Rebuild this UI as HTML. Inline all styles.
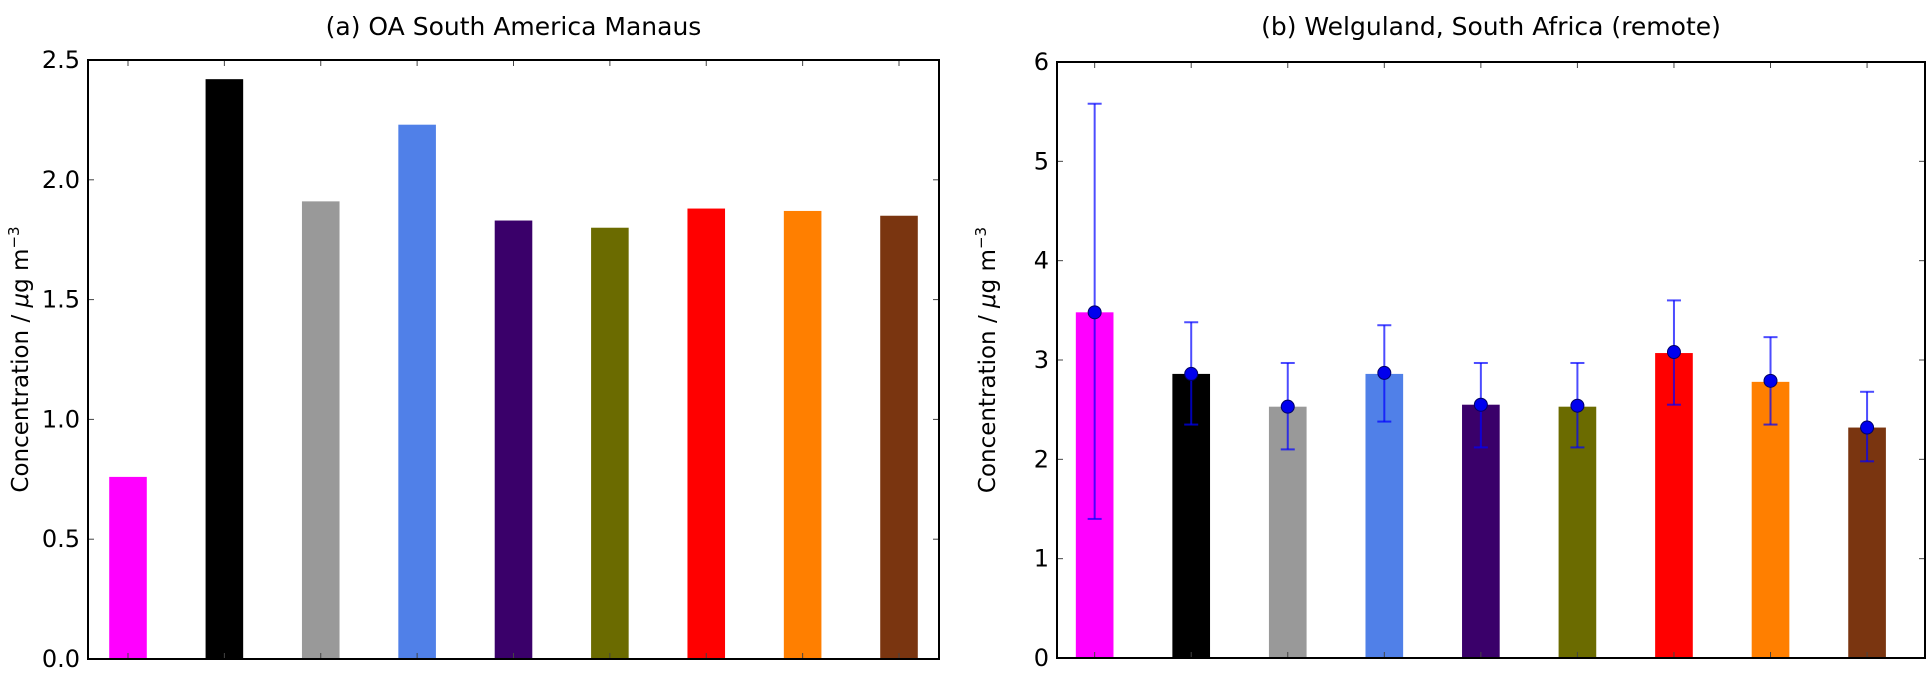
<!DOCTYPE html>
<html><head><meta charset="utf-8"><style>
body{margin:0;background:#fff;width:1930px;height:669px;overflow:hidden}
svg text{font-family:"DejaVu Sans","Liberation Sans",sans-serif;fill:#000}
</style></head><body>
<svg id="c" width="1930" height="669"></svg>
<script>
const colors=["#ff00ff","#000000","#999999","#5080e8","#3a006a","#6b6b00","#ff0000","#ff7f00","#7a3510"];
const valuesA=[0.76,2.42,1.91,2.23,1.83,1.80,1.88,1.87,1.85];
const ticksA=[0,0.5,1.0,1.5,2.0,2.5];
const tickLabelsA=["0.0","0.5","1.0","1.5","2.0","2.5"];
const valuesB=[3.48,2.86,2.53,2.86,2.55,2.53,3.07,2.78,2.32];
const meansB=[3.48,2.86,2.53,2.87,2.55,2.54,3.08,2.79,2.32];
const errLowB=[1.40,2.35,2.10,2.38,2.12,2.12,2.55,2.35,1.98];
const errHighB=[5.58,3.38,2.97,3.35,2.97,2.97,3.60,3.23,2.68];
const ticksB=[0,1,2,3,4,5,6];
const tickLabelsB=["0","1","2","3","4","5","6"];
const NS="http://www.w3.org/2000/svg";
const svg=document.getElementById('c');
function mk(t,a,p){const e=document.createElementNS(NS,t);for(const k in a)e.setAttribute(k,a[k]);(p||svg).appendChild(e);return e;}
function panel(cfg){
  const g=mk('g',{});
  
  
  const X0=cfg.x0,X1=cfg.x1,Y0=cfg.y0,Y1=cfg.y1;
  const n=cfg.values.length;
  const span=n-1+cfg.padL+cfg.padR;
  const xs=i=>X0+(X1-X0)*(i+cfg.padL)/span;
  const ys=v=>Y1-(Y1-Y0)*(v-cfg.ymin)/(cfg.ymax-cfg.ymin);
  const bw=(X1-X0)/span*0.39;
  cfg.values.forEach((v,i)=>{
    const r=mk('rect',{x:xs(i)-bw/2,y:ys(v),width:bw,height:ys(0)-ys(v),fill:colors[i]},g);
    
    
  });
  if(cfg.means){
    cfg.means.forEach((m,i)=>{
      const x=xs(i);
      const eg=mk('g',{stroke:'#0000ff','stroke-opacity':0.7,'stroke-width':2},g);
      
      
      mk('line',{x1:x,x2:x,y1:ys(cfg.lo[i]),y2:ys(cfg.hi[i])},eg);
      mk('line',{x1:x-7,x2:x+7,y1:ys(cfg.lo[i]),y2:ys(cfg.lo[i])},eg);
      mk('line',{x1:x-7,x2:x+7,y1:ys(cfg.hi[i]),y2:ys(cfg.hi[i])},eg);
      const c=mk('circle',{cx:x,cy:ys(m),r:6.5,fill:'#0000ee',stroke:'#000066','stroke-width':1},g);
      
      
    });
  }
  for(let i=0;i<n;i++){const x=xs(i);
    mk('line',{x1:x,x2:x,y1:Y1,y2:Y1-6,stroke:'#444','stroke-width':1},g);
    mk('line',{x1:x,x2:x,y1:Y0,y2:Y0+6,stroke:'#444','stroke-width':1},g);}
  cfg.ticks.forEach((t,i)=>{const y=ys(t);
    mk('line',{x1:X0,x2:X0+6,y1:y,y2:y,stroke:'#444','stroke-width':1},g);
    mk('line',{x1:X1,x2:X1-6,y1:y,y2:y,stroke:'#444','stroke-width':1},g);
    const tx=mk('text',{x:X0-8,y:y+8,'text-anchor':'end','font-size':24},g);tx.textContent=cfg.labels[i];
    
    
  });
  mk('rect',{x:X0,y:Y0,width:X1-X0,height:Y1-Y0,fill:'none',stroke:'#000','stroke-width':2},g);
  const ti=mk('text',{x:(X0+X1)/2,y:35,'text-anchor':'middle','font-size':25},g);ti.textContent=cfg.title;
  
  
  const yl=mk('text',{x:0,y:0,'text-anchor':'middle','font-size':23,transform:`translate(${cfg.ylx},${(Y0+Y1)/2}) rotate(-90)`},g);
  yl.innerHTML='Concentration / <tspan font-style="italic">μ</tspan>g m<tspan dy="-9" font-size="15">−3</tspan>';
  
  
}
panel({name:'panel-a',x0:88,x1:939,y0:60,y1:659,ymin:0,ymax:2.5,padL:0.415,padR:0.415,values:valuesA,ticks:ticksA,labels:tickLabelsA,title:'(a) OA South America Manaus',ylx:28});
panel({name:'panel-b',x0:1057,x1:1925,y0:62,y1:658,ymin:0,ymax:6,padL:0.39,padR:0.6,values:valuesB,means:meansB,lo:errLowB,hi:errHighB,ticks:ticksB,labels:tickLabelsB,title:'(b) Welguland, South Africa (remote)',ylx:995});
</script>
</body></html>
